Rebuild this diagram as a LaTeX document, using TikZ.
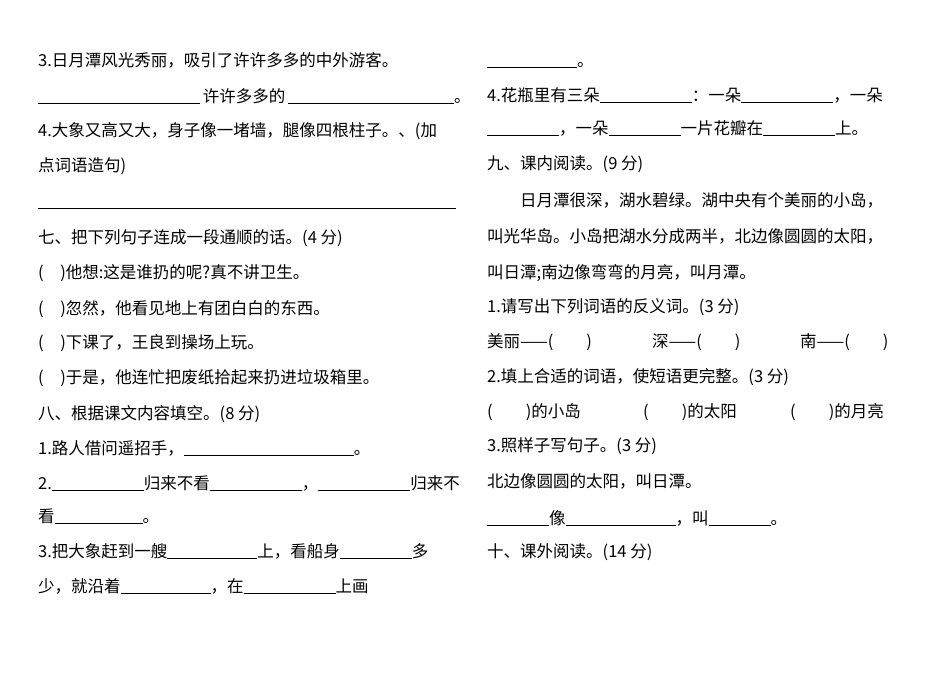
\documentclass[tikz,border=0pt]{standalone}
\usepackage{fontspec}
\setmainfont{Liberation Serif}
\newfontfamily\cjk{Noto Sans CJK SC}
\newcommand{\bl}[1]{\rule[-2pt]{#1pt}{0.6pt}}
\begin{document}
\begin{tikzpicture}[x=1pt,y=-1pt,
  tl/.style={anchor=base west,inner sep=0pt,font=\cjk\fontsize{16.5}{18}\selectfont}]
\useasboundingbox[fill=white] (0,0) rectangle (950,672);
% left column
\node[tl] (l1) at (38,66) {3.日月潭风光秀丽，吸引了许许多多的中外游客。};
\node[tl] (l2) at (38,102) {\bl{162}\,许许多多的\,\bl{166}。};
\node[tl] (l3) at (38,136) {4.大象又高又大，身子像一堵墙，腿像四根柱子。、(加};
\node[tl] (l4) at (38,171) {点词语造句)};
\node[tl] (l5) at (38,207) {\bl{418}};
\node[tl] (l6) at (38,243) {七、把下列句子连成一段通顺的话。(4 分)};
\node[tl] (l7) at (38,278) {(\quad)他想:这是谁扔的呢?真不讲卫生。};
\node[tl] (l8) at (38,314) {(\quad)忽然，他看见地上有团白白的东西。};
\node[tl] (l9) at (38,348) {(\quad)下课了，王良到操场上玩。};
\node[tl] (l10) at (38,383) {(\quad)于是，他连忙把废纸拾起来扔进垃圾箱里。};
\node[tl] (l11) at (38,419) {八、根据课文内容填空。(8 分)};
\node[tl] (l12) at (38,454) {1.路人借问遥招手，\bl{170}。};
\node[tl] (l13) at (38,489) {2.\bl{92}归来不看\bl{92}，\bl{92}归来不};
\node[tl] (l14) at (38,522) {看\bl{88}。};
\node[tl] (l15) at (38,557) {3.把大象赶到一艘\bl{90}上，看船身\bl{72}多};
\node[tl] (l16) at (38,592) {少，就沿着\bl{90}，在\bl{92}上画};
% right column
\node[tl] (r1) at (487,66) {\bl{90}。};
\node[tl] (r2) at (487,101) {4.花瓶里有三朵\bl{92}：一朵\bl{92}，一朵};
\node[tl] (r3) at (487,134) {\bl{72}，一朵\bl{72}一片花瓣在\bl{72}上。};
\node[tl] (r4) at (487,169) {九、课内阅读。(9 分)};
\node[tl] (r5) at (520,206) {日月潭很深，湖水碧绿。湖中央有个美丽的小岛，};
\node[tl] (r6) at (487,242) {叫光华岛。小岛把湖水分成两半，北边像圆圆的太阳，};
\node[tl] (r7) at (487,278) {叫日潭;南边像弯弯的月亮，叫月潭。};
\node[tl] (r8) at (487,312) {1.请写出下列词语的反义词。(3 分)};
\node[tl] (r9a) at (487,347) {美丽——(\qquad)};
\node[tl] (r9b) at (652,347) {深——(\qquad)};
\node[tl] (r9c) at (800,347) {南——(\qquad)};
\node[tl] (r10) at (487,382) {2.填上合适的词语，使短语更完整。(3 分)};
\node[tl] (r11a) at (487,417) {(\qquad)的小岛};
\node[tl] (r11b) at (643,417) {(\qquad)的太阳};
\node[tl] (r11c) at (790,417) {(\qquad)的月亮};
\node[tl] (r12) at (487,451) {3.照样子写句子。(3 分)};
\node[tl] (r13) at (487,487) {北边像圆圆的太阳，叫日潭。};
\node[tl] (r14) at (487,524) {\bl{62}像\bl{110}，叫\bl{62}。};
\node[tl] (r15) at (487,557) {十、课外阅读。(14 分)};
\end{tikzpicture}
\end{document}
